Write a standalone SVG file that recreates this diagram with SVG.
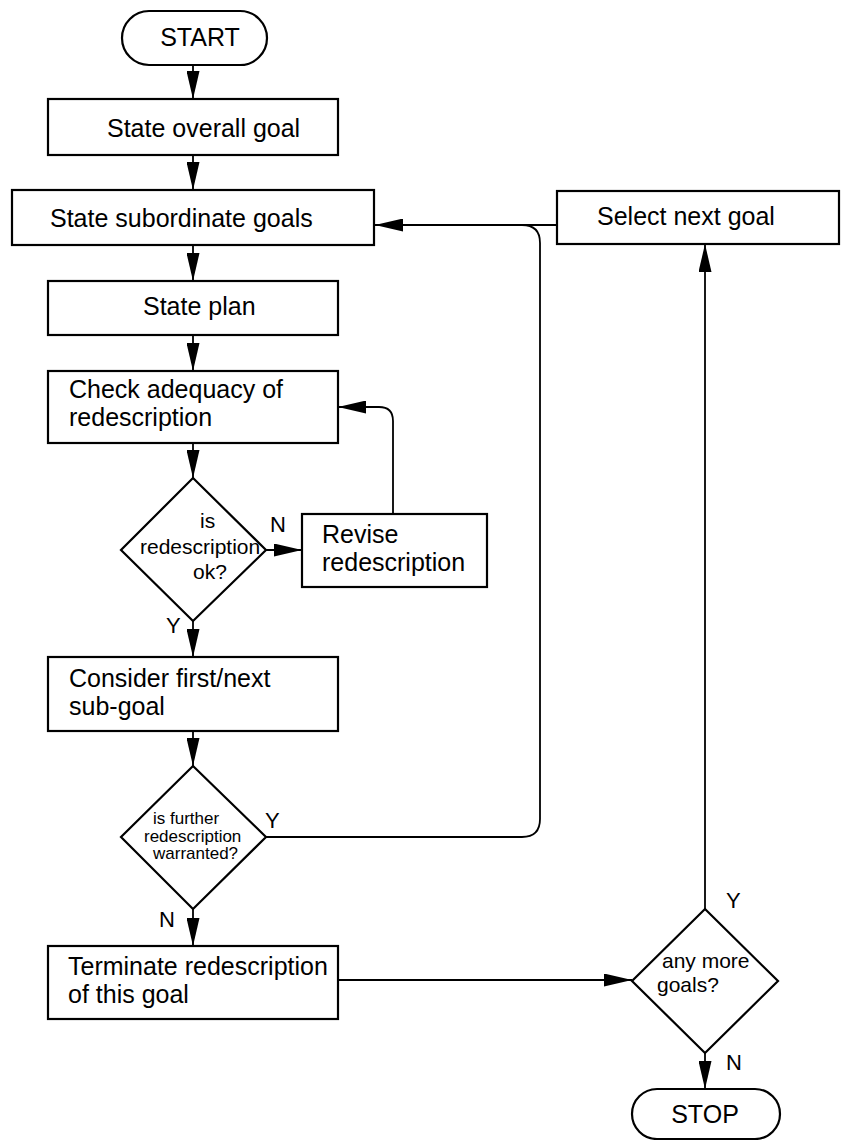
<svg xmlns="http://www.w3.org/2000/svg" width="841" height="1140" viewBox="0 0 841 1140">
<style>
  .box { fill: #fff; stroke: #000; stroke-width: 2.2; }
  .line { fill: none; stroke: #000; stroke-width: 1.8; }
  .t { font-family: "Liberation Sans", Arial, sans-serif; font-size: 25px; fill: #000; }
  .td { font-family: "Liberation Sans", Arial, sans-serif; font-size: 21px; fill: #000; }
  .ts { font-family: "Liberation Sans", Arial, sans-serif; font-size: 17px; fill: #000; }
  .lbl { font-family: "Liberation Sans", Arial, sans-serif; font-size: 22px; fill: #000; }
</style>
<defs>
  <marker id="arr" markerUnits="userSpaceOnUse" markerWidth="28" markerHeight="13" refX="28" refY="6.5" orient="auto">
    <path d="M0,0 L28,6.5 L0,13 z" fill="#000"/>
  </marker>
</defs>
<rect width="841" height="1140" fill="#fff"/>

<g id="connectors">
  <path class="line" d="M193,65 V99" marker-end="url(#arr)"/>
  <path class="line" d="M193,155 V190" marker-end="url(#arr)"/>
  <path class="line" d="M193,245 V281" marker-end="url(#arr)"/>
  <path class="line" d="M193,335 V371" marker-end="url(#arr)"/>
  <path class="line" d="M193,443 V478" marker-end="url(#arr)"/>
  <path class="line" d="M266,550 H302" marker-end="url(#arr)"/>
  <path class="line" d="M393,514 V421 Q393,407 379,407 H338" marker-end="url(#arr)"/>
  <path class="line" d="M193,621 V657" marker-end="url(#arr)"/>
  <path class="line" d="M193,731 V766" marker-end="url(#arr)"/>
  <path class="line" d="M557,225 H375" marker-end="url(#arr)"/>
  <path class="line" d="M266,837 H522 Q540,837 540,819 V243 Q540,225 522,225"/>
  <path class="line" d="M193,909 V946" marker-end="url(#arr)"/>
  <path class="line" d="M338,980 H632" marker-end="url(#arr)"/>
  <path class="line" d="M705,909 V244" marker-end="url(#arr)"/>
  <path class="line" d="M705,1053 V1089" marker-end="url(#arr)"/>
  <text class="lbl" x="270" y="532">N</text>
  <text class="lbl" x="166" y="633">Y</text>
  <text class="lbl" x="265" y="828">Y</text>
  <text class="lbl" x="159" y="927">N</text>
  <text class="lbl" x="726" y="908">Y</text>
  <text class="lbl" x="726" y="1070">N</text>
</g>

<g id="start">
  <rect class="box" x="122" y="11" width="145" height="54" rx="27"/>
  <text class="t" x="200" y="46" text-anchor="middle">START</text>
</g>
<g id="overall">
  <rect class="box" x="48" y="99" width="290" height="56"/>
  <text class="t" x="107" y="137">State overall goal</text>
</g>
<g id="subordinate">
  <rect class="box" x="12" y="190" width="362" height="55"/>
  <text class="t" x="50" y="227">State subordinate goals</text>
</g>
<g id="select">
  <rect class="box" x="557" y="191" width="282" height="53"/>
  <text class="t" x="597" y="225">Select next goal</text>
</g>
<g id="plan">
  <rect class="box" x="48" y="281" width="290" height="54"/>
  <text class="t" x="143" y="315">State plan</text>
</g>
<g id="check">
  <rect class="box" x="48" y="371" width="290" height="72"/>
  <text class="t" x="69" y="398">Check adequacy of</text>
  <text class="t" x="69" y="426">redescription</text>
</g>
<g id="decision1">
  <path class="box" d="M193,478 L266,550 L193,621 L121,550 Z"/>
  <text class="td" x="200" y="528">is</text>
  <text class="td" x="140" y="554">redescription</text>
  <text class="td" x="193" y="579">ok?</text>
</g>
<g id="revise">
  <rect class="box" x="302" y="514" width="185" height="73"/>
  <text class="t" x="322" y="543">Revise</text>
  <text class="t" x="322" y="571">redescription</text>
</g>
<g id="consider">
  <rect class="box" x="48" y="657" width="290" height="74"/>
  <text class="t" x="69" y="687">Consider first/next</text>
  <text class="t" x="69" y="715">sub-goal</text>
</g>
<g id="decision2">
  <path class="box" d="M193,766 L266,837 L193,909 L121,837 Z"/>
  <text class="ts" x="153" y="824">is further</text>
  <text class="ts" x="144" y="842">redescription</text>
  <text class="ts" x="153" y="859">warranted?</text>
</g>
<g id="terminate">
  <rect class="box" x="48" y="946" width="290" height="73"/>
  <text class="t" x="68" y="975">Terminate redescription</text>
  <text class="t" x="68" y="1003">of this goal</text>
</g>
<g id="decision3">
  <path class="box" d="M705,909 L778,981 L705,1053 L632,981 Z"/>
  <text class="td" x="662" y="968">any more</text>
  <text class="td" x="657" y="992">goals?</text>
</g>
<g id="stop">
  <rect class="box" x="632" y="1089" width="148" height="50" rx="25"/>
  <text class="t" x="705" y="1123" text-anchor="middle">STOP</text>
</g>
</svg>
